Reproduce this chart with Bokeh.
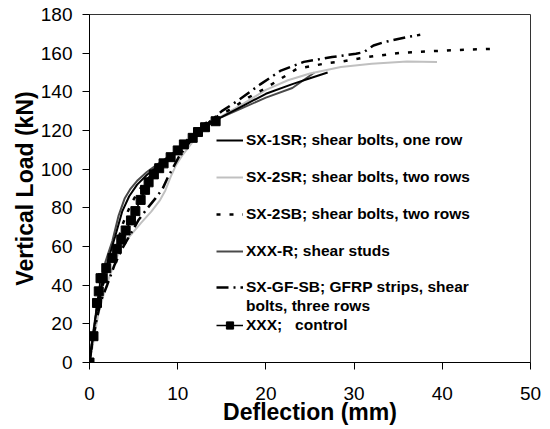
from bokeh.plotting import figure
from bokeh.models import Range1d, SingleIntervalTicker, Legend, LegendItem
from bokeh.embed import file_html
from bokeh.resources import INLINE

# ---------------- data ----------------
sx1sr_x = [0, 0.4, 0.9, 1.5, 2.1, 2.9, 3.7, 4.5, 5.4, 6.5, 7.7, 9.0, 10.3, 11.5, 12.5, 13.5, 15.0, 17.5, 20.0, 23.0, 25.0, 27.0]
sx1sr_y = [0, 14, 30, 42, 53, 65, 78, 86, 92, 97, 101.5, 106.5, 111, 116, 121, 123.5, 127, 133, 139, 144, 147, 150]

sx2sr_x = [0, 0.5, 1.0, 1.6, 2.3, 3.0, 3.5, 4.5, 5.8, 7.0, 8.0, 8.6, 9.2, 9.8, 10.5, 11.5, 12.5, 13.5, 15.0, 17.5, 20.0, 22.5, 25.0, 28.5, 32.0, 36.0, 39.4]
sx2sr_y = [0, 12, 25, 35, 45, 53, 59.6, 65, 72, 78, 84, 89, 96, 102, 107, 113, 119, 123, 127.5, 134, 141, 146, 149.5, 152.8, 154.5, 155.7, 155.4]

sx2sb_x = [0, 0.4, 0.9, 1.5, 2.2, 3.0, 3.8, 4.7, 5.6, 6.6, 7.7, 9.0, 10.3, 11.5, 12.5, 14.0, 16.0, 18.0, 20.0, 23.5, 26.9, 28.5, 31.5, 35.3, 38.3, 41.3, 46.3]
sx2sb_y = [0, 13, 28, 40, 50, 60, 72, 82, 89, 95, 100, 106, 111.5, 117, 122, 126, 131, 137, 142, 151.9, 154.8, 155.6, 158, 160.2, 160.9, 161.6, 162.3]

xxxr_x = [0, 0.3, 0.8, 1.3, 1.8, 2.6, 3.3, 4.0, 4.6, 5.4, 6.5, 7.7, 8.8, 10.0, 11.0, 12.0, 13.0, 15.0, 17.5, 20.0, 23.0, 25.5]
xxxr_y = [0, 12, 28, 40, 52, 63, 76, 85, 89.5, 94, 98.5, 102.5, 106, 110, 114, 119, 122, 127, 132, 137, 142, 150]

sxgf_x = [0, 0.3, 0.8, 1.3, 2.0, 2.8, 3.6, 4.6, 5.6, 6.6, 7.5, 8.3, 8.9, 9.5, 10.2, 11.2, 12.2, 13.5, 15.0, 17.0, 19.4, 21.7, 24.3, 27.5, 30.2, 31.1, 32.2, 33.4, 36.0, 37.5]
sxgf_y = [0, 10, 22, 32, 40, 50, 58, 66, 74, 80, 85, 90, 96, 101, 107, 113, 119, 124, 130, 136, 144, 151, 155.5, 158, 159.7, 160.5, 164, 165.7, 168.3, 169.5]

ctrl_x = [0, 0.45, 0.85, 1.05, 1.25, 1.5, 1.9, 2.6, 3.1, 3.6, 4.1, 4.7, 5.2, 5.8, 6.3, 6.7, 7.3, 7.9, 8.4, 9.2, 10.0, 10.7, 11.7, 12.3, 13.1, 14.3]
ctrl_y = [0, 13.6, 30.8, 36.8, 43.6, 43.6, 48.8, 54, 58.8, 63.6, 68.3, 73.5, 78.3, 84.1, 89.3, 93.2, 97.3, 100.5, 103, 106.2, 109.7, 112.8, 116.2, 119.2, 121.7, 124.8]

labels = [
    "SX-1SR; shear bolts, one row",
    "SX-2SR; shear bolts, two rows",
    "SX-2SB; shear bolts, two rows",
    "XXX-R; shear studs",
    "SX-GF-SB; GFRP strips, shear",
    "bolts, three rows",
    "XXX;   control",
]

FONT = "Liberation Sans"

p = figure(width=542, height=427, output_backend="svg", toolbar_location=None,
           x_range=Range1d(0, 50), y_range=Range1d(0, 180),
           min_border_left=89, min_border_right=12, min_border_top=14, min_border_bottom=59)

p.xgrid.visible = False
p.ygrid.visible = False
p.outline_line_color = "#333333"
p.outline_line_width = 1

r_xxxr = p.line(xxxr_x, xxxr_y, line_color="#4a4a4a", line_width=2)
r_sx2sr = p.line(sx2sr_x, sx2sr_y, line_color="#c0c0c0", line_width=2)
r_sx1sr = p.line(sx1sr_x, sx1sr_y, line_color="black", line_width=2)
r_sx2sb = p.line(sx2sb_x, sx2sb_y, line_color="black", line_width=2.5, line_dash="4 9")
r_sxgf = p.line(sxgf_x, sxgf_y, line_color="black", line_width=2.5, line_dash="12 5 2 5")
r_ctrl_l = p.line(ctrl_x, ctrl_y, line_color="black", line_width=1.5)
r_ctrl_m = p.scatter(ctrl_x, ctrl_y, marker="square", size=9, fill_color="black", line_color="black")
r_blank = p.line([], [], line_alpha=0)

for ax in (p.xaxis[0], p.yaxis[0]):
    ax.axis_line_color = "black"
    ax.axis_line_width = 1
    ax.major_tick_line_color = "black"
    ax.major_tick_in = 0
    ax.major_tick_out = 7
    ax.minor_tick_line_color = None
    ax.major_label_text_font = FONT
    ax.major_label_text_font_size = "19px"
    ax.major_label_text_color = "black"
    ax.axis_label_text_font = FONT
    ax.axis_label_text_font_size = "23px"
    ax.axis_label_text_font_style = "bold"
    ax.axis_label_text_color = "black"

p.xaxis.ticker = SingleIntervalTicker(interval=10)
p.yaxis.ticker = SingleIntervalTicker(interval=20)
p.xaxis.axis_label = "Deflection (mm)"
p.yaxis.axis_label = "Vertical Load (kN)"
p.xaxis.major_label_standoff = 17
p.yaxis.major_label_standoff = 10
p.xaxis.axis_label_standoff = -4
p.yaxis.axis_label_standoff = 0


def mk_legend(items, loc, lh, sp):
    lg = Legend(items=items, location=loc, orientation="vertical",
                label_text_font=FONT, label_text_font_size="15.5px",
                label_text_font_style="bold", label_text_color="black",
                glyph_width=27, glyph_height=lh, label_height=lh, label_standoff=3,
                spacing=sp, padding=0, margin=0,
                border_line_alpha=0, background_fill_alpha=0)
    p.add_layout(lg, "center")


mk_legend([LegendItem(label=labels[0], renderers=[r_sx1sr]),
           LegendItem(label=labels[1], renderers=[r_sx2sr]),
           LegendItem(label=labels[2], renderers=[r_sx2sb]),
           LegendItem(label=labels[3], renderers=[r_xxxr])],
          (127, 101), 20, 17)
mk_legend([LegendItem(label=labels[4], renderers=[r_sxgf]),
           LegendItem(label=labels[5], renderers=[r_blank]),
           LegendItem(label=labels[6], renderers=[r_ctrl_l, r_ctrl_m])],
          (127, 28), 18, 1)

open("out.html", "w").write(file_html(p, INLINE))
